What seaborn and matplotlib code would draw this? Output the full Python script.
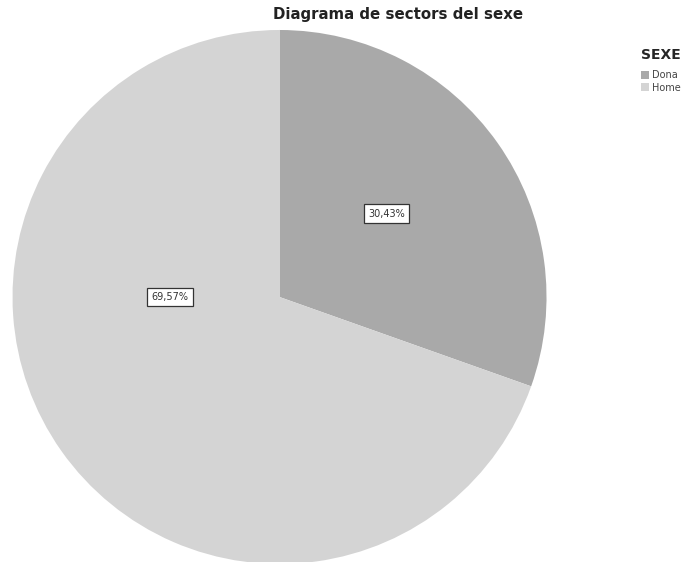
import matplotlib
matplotlib.use("Agg")
import matplotlib.pyplot as plt
from matplotlib.patches import Patch
import seaborn as sns
import numpy as np

categories = ["Dona", "Home"]
percentages = [30.43, 69.57]
colors = ["#a9a9a9", "#d4d4d4"]

sns.set_theme(style="white")
plt.rcParams["font.family"] = ["DejaVu Sans"]

fig = plt.figure(figsize=(7.0, 5.62), dpi=100)
ax = fig.add_axes([0.01786, -0.00356, 0.7629, 0.9502])

wedges, texts, autotexts = ax.pie(
    percentages,
    colors=colors,
    startangle=90,
    counterclock=False,
    autopct=lambda p: f"{p:.2f}%".replace(".", ","),
    pctdistance=0.49,
    wedgeprops=dict(linewidth=0),
    textprops=dict(fontsize=7, color="#333333"),
)
ax.set_xlim(-1, 1)
ax.set_ylim(-1, 1)
ax.set_aspect("equal")

for t in autotexts:
    t.set_bbox(dict(boxstyle="square,pad=0.45", facecolor="white",
                    edgecolor="#333333", linewidth=0.9))
# nudge labels: first a bit higher, second to the left of the centre
x0, y0 = autotexts[0].get_position()
autotexts[0].set_position((x0, y0 + 0.03))
autotexts[1].set_position((-0.41, 0.0))

fig.text(0.569, 0.975, "Diagrama de sectors del sexe", ha="center", va="center",
         fontsize=10.8, fontweight="bold", color="#222222")

handles = [Patch(facecolor=c, edgecolor="none") for c in colors]
leg = fig.legend(handles, categories, title="SEXE", loc="upper left",
                 bbox_to_anchor=(0.915, 0.915), frameon=False,
                 fontsize=7, title_fontsize=10, handlelength=0.9,
                 handleheight=0.9, handletextpad=0.3, labelspacing=0.25,
                 borderpad=0.0, borderaxespad=0.0)
leg.get_title().set_fontweight("bold")
leg._legend_box.align = "left"
leg._legend_box.sep = 6
for t in leg.get_texts():
    t.set_color("#444444")

fig.savefig("out.png", dpi=100)
